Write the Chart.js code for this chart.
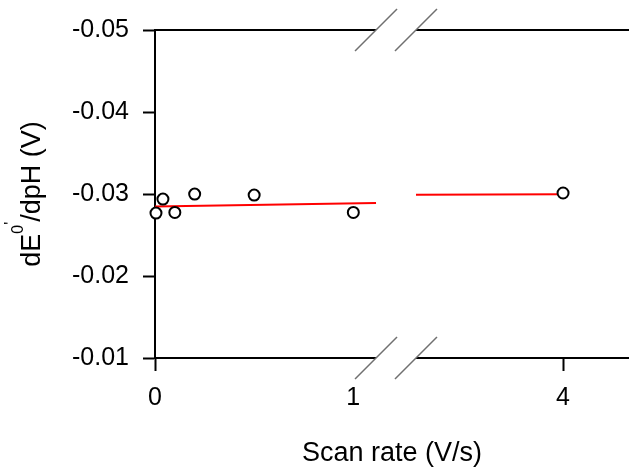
<!DOCTYPE html>
<html><head><meta charset="utf-8">
<script src="https://cdn.jsdelivr.net/npm/chart.js@4"></script>
<style>html,body{margin:0;padding:0;background:#fff}#wrap{width:629px;height:467px}</style>
</head><body><div id="wrap"><canvas id="c" width="629" height="467"></canvas></div>
<script>
// ---- data ----
const scanRates = [0.005, 0.04, 0.1, 0.2, 0.5, 1, 4];
const slopes    = [-0.02767, -0.02938, -0.02775, -0.02999, -0.02987, -0.02775, -0.03012];
const fitSeg1X  = [0, 1.1145];
const fitSeg1Y  = [-0.02848, -0.02889];
const fitSeg2X  = [3.2585, 4];
const fitSeg2Y  = [-0.02990, -0.02996];
const xTickValues = [0, 1, 4];
const xTickMarks  = [0, 4];
const yTickValues = [-0.05, -0.04, -0.03, -0.02, -0.01];

// ---- broken x axis ----
const BREAK_LO = 1.1145, BREAK_HI = 3.2585, GAP = 0.2015, X_MAX = 4.3325;
function toDisp(x){ return x <= BREAK_LO ? x : x - (BREAK_HI - BREAK_LO) + GAP; }

const FONT = '"Liberation Sans", Arial, sans-serif';

const breakPlugin = {
  id: 'brk',
  afterDraw(chart){
    const {ctx, chartArea: a, scales: {x}} = chart;
    const g1 = x.getPixelForValue(toDisp(BREAK_LO));
    const g2 = x.getPixelForValue(toDisp(BREAK_LO) + GAP);
    ctx.save();
    // top frame line with gap
    ctx.strokeStyle = '#000'; ctx.lineWidth = 2;
    ctx.beginPath();
    ctx.moveTo(a.left - 1, a.top); ctx.lineTo(g1, a.top);
    ctx.moveTo(g2, a.top); ctx.lineTo(a.right, a.top);
    ctx.stroke();
    // gap in bottom axis
    ctx.fillStyle = '#fff';
    ctx.fillRect(g1, a.bottom - 2, g2 - g1, 4);
    // break slashes
    ctx.strokeStyle = '#707070'; ctx.lineWidth = 1.5;
    for (const y of [a.top, a.bottom]) for (const gx of [g1, g2]) {
      ctx.beginPath(); ctx.moveTo(gx - 21, y + 21); ctx.lineTo(gx + 21, y - 21); ctx.stroke();
    }
    // y axis title with superscript
    ctx.fillStyle = '#000';
    ctx.translate(40, (a.top + a.bottom) / 2);
    ctx.rotate(-Math.PI / 2);
    ctx.textBaseline = 'alphabetic'; ctx.textAlign = 'left';
    const big = '27px ' + FONT, sm = '16px ' + FONT;
    const parts = [
      {t: 'dE', f: big, dy: 0},
      {t: '0', f: sm, dy: -17},
      {t: "'", f: sm, dy: -24},
      {t: '/dpH (V)', f: big, dy: 0}
    ];
    let total = 0;
    for (const p of parts){ ctx.font = p.f; p.w = ctx.measureText(p.t).width; total += p.w; }
    let cx = -total / 2;
    for (const p of parts){ ctx.font = p.f; ctx.fillText(p.t, cx, p.dy); cx += p.w; }
    ctx.restore();
  }
};

new Chart(document.getElementById('c'), {
  type: 'scatter',
  data: {
    datasets: [
      { type: 'line', data: fitSeg1X.map((v,i)=>({x: toDisp(v), y: fitSeg1Y[i]})),
        borderColor: '#ff0000', borderWidth: 2, pointRadius: 0, fill: false, order: 2 },
      { type: 'line', data: fitSeg2X.map((v,i)=>({x: toDisp(v), y: fitSeg2Y[i]})),
        borderColor: '#ff0000', borderWidth: 2, pointRadius: 0, fill: false, order: 2 },
      { data: scanRates.map((v,i)=>({x: toDisp(v), y: slopes[i]})),
        pointRadius: 5.5, pointBorderWidth: 2, pointBorderColor: '#000', pointBackgroundColor: '#fff',
        clip: false, order: 1 }
    ]
  },
  options: {
    responsive: false, animation: false, devicePixelRatio: 1,
    layout: { autoPadding: false, padding: { top: 30, right: 0, left: 0, bottom: 0 } },
    plugins: { legend: { display: false }, tooltip: { enabled: false } },
    scales: {
      x: {
        type: 'linear', min: 0, max: toDisp(X_MAX),
        afterBuildTicks: s => { s.ticks = xTickValues.map(v => ({value: toDisp(v)})); },
        afterFit: s => { s.height = 109; },
        ticks: { autoSkip: false, maxRotation: 0, padding: 12, color: '#000',
                 font: { family: FONT, size: 25 },
                 callback: (v, i) => String(xTickValues[i]) },
        grid: { drawOnChartArea: false, drawTicks: true, tickLength: 13, tickWidth: 2,
                tickColor: c => xTickMarks.includes(xTickValues[c.index]) ? '#000' : 'rgba(0,0,0,0)' },
        border: { display: true, color: '#000', width: 2 },
        title: { display: true, text: 'Scan rate (V/s)', color: '#000',
                 font: { family: FONT, size: 27 }, padding: { top: 0, bottom: -3 } }
      },
      y: {
        type: 'linear', reverse: true, min: -0.05, max: -0.01,
        afterBuildTicks: s => { s.ticks = yTickValues.map(v => ({value: v})); },
        afterFit: s => { s.width = 155; },
        ticks: { padding: 14, color: '#000', font: { family: FONT, size: 25 },
                 callback: v => v.toFixed(2) },
        grid: { drawOnChartArea: false, drawTicks: true, tickLength: 12, tickWidth: 2, tickColor: '#000' },
        border: { display: true, color: '#000', width: 2 }
      }
    }
  },
  plugins: [breakPlugin]
});
</script></body></html>
